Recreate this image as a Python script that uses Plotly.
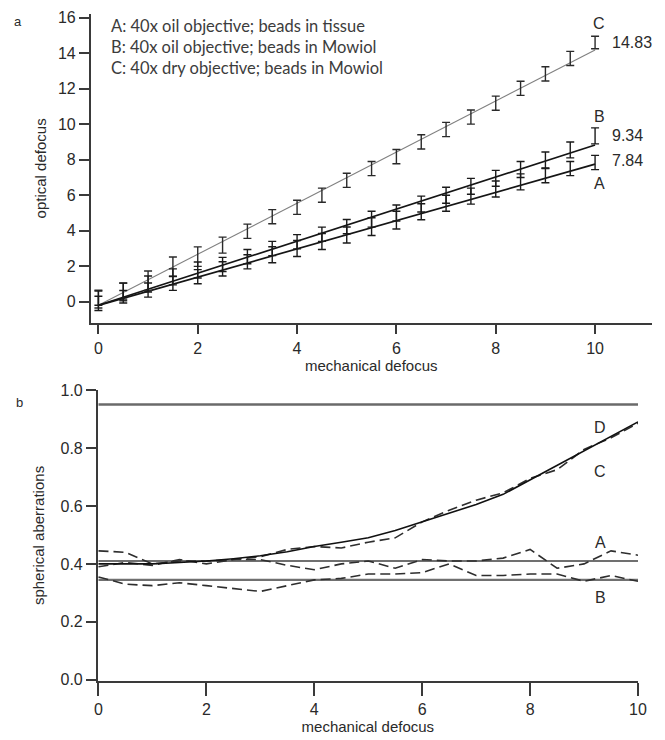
import plotly.graph_objects as go

# ---------------- data: panel a ----------------
mech = [0, 0.5, 1, 1.5, 2, 2.5, 3, 3.5, 4, 4.5, 5, 5.5, 6, 6.5, 7, 7.5, 8, 8.5, 9, 9.5, 10]
opt_A = [-0.09, 0.28, 0.66, 1.04, 1.41, 1.85, 2.25, 2.65, 3.0, 3.39, 3.76, 4.23, 4.6, 5.07,
         5.55, 5.95, 6.35, 6.75, 7.1, 7.5, 7.84]
opt_B = [0.2, 0.6, 1.0, 1.4, 1.79, 2.1, 2.54, 3.0, 3.38, 3.8, 4.23, 4.65, 5.0, 5.5,
         6.0, 6.5, 6.95, 7.45, 7.98, 8.55, 9.34]
opt_C = [0.15, 0.56, 1.18, 1.97, 2.54, 3.19, 3.97, 4.79, 5.32, 6.0, 6.84, 7.5, 8.17, 9.0,
         9.7, 10.4, 11.18, 12.02, 12.83, 13.7, 14.6]
err_A = [0.4, 0.35, 0.4, 0.4, 0.4, 0.4, 0.4, 0.45, 0.45, 0.45, 0.45, 0.5, 0.5, 0.45,
         0.45, 0.45, 0.45, 0.45, 0.4, 0.4, 0.4]
err_B = [0.4, 0.45, 0.45, 0.45, 0.45, 0.4, 0.4, 0.4, 0.4, 0.4, 0.4, 0.45, 0.45, 0.45,
         0.45, 0.45, 0.45, 0.45, 0.45, 0.45, 0.45]
err_C = [0.5, 0.5, 0.55, 0.55, 0.55, 0.45, 0.4, 0.4, 0.4, 0.4, 0.4, 0.4, 0.4, 0.4,
         0.4, 0.4, 0.4, 0.4, 0.4, 0.4, 0.35]
fit_x = [0, 10]
fit_A = [-0.2, 7.75]
fit_B = [-0.2, 8.83]
fit_C = [-0.2, 14.18]
legend_lines = ["A: 40x oil objective; beads in tissue",
                "B: 40x oil objective; beads in Mowiol",
                "C: 40x dry objective; beads in Mowiol"]
end_labels = ["14.83", "9.34", "7.84"]

# ---------------- data: panel b ----------------
sph_A = [0.445, 0.44, 0.40, 0.41, 0.41, 0.415, 0.415, 0.395, 0.38, 0.40, 0.41, 0.385, 0.415,
         0.41, 0.41, 0.42, 0.45, 0.385, 0.40, 0.445, 0.43]
sph_B = [0.355, 0.33, 0.325, 0.335, 0.325, 0.315, 0.305, 0.325, 0.345, 0.35, 0.365, 0.365,
         0.37, 0.40, 0.36, 0.36, 0.365, 0.365, 0.34, 0.36, 0.34]
sph_C = [0.39, 0.405, 0.395, 0.415, 0.40, 0.415, 0.425, 0.45, 0.46, 0.455, 0.475, 0.49,
         0.545, 0.585, 0.62, 0.645, 0.695, 0.725, 0.795, 0.835, 0.885]
sph_fit = [0.40, 0.40, 0.40, 0.405, 0.41, 0.418, 0.428, 0.442, 0.46, 0.475, 0.49, 0.515,
           0.545, 0.575, 0.605, 0.64, 0.69, 0.74, 0.79, 0.84, 0.89]
level_x = [0, 10]
level_D = 0.95
level_A = 0.41
level_B = 0.345

AX = "#3a3a3a"
TXT = "#2a2a2a"

fig = go.Figure()

def errtrace(y, e, col, xa, ya):
    return go.Scatter(x=mech, y=y, mode="markers",
                      marker=dict(size=1, color="rgba(0,0,0,0)"),
                      error_y=dict(type="data", array=e, visible=True, color=col,
                                   thickness=1.4, width=4),
                      xaxis=xa, yaxis=ya, showlegend=False, hoverinfo="skip")

# panel a fits
fig.add_trace(go.Scatter(x=fit_x, y=fit_C, mode="lines", line=dict(color="#808080", width=1.1),
                         xaxis="x", yaxis="y", showlegend=False))
fig.add_trace(go.Scatter(x=fit_x, y=fit_B, mode="lines", line=dict(color="#151515", width=1.7),
                         xaxis="x", yaxis="y", showlegend=False))
fig.add_trace(go.Scatter(x=fit_x, y=fit_A, mode="lines", line=dict(color="#151515", width=1.7),
                         xaxis="x", yaxis="y", showlegend=False))
fig.add_trace(errtrace(opt_C, err_C, "#2a2a2a", "x", "y"))
fig.add_trace(errtrace(opt_B, err_B, "#1a1a1a", "x", "y"))
fig.add_trace(errtrace(opt_A, err_A, "#1a1a1a", "x", "y"))

# panel b
fig.add_trace(go.Scatter(x=level_x, y=[level_D, level_D], mode="lines",
                         line=dict(color="#6a6a6a", width=2.6), xaxis="x2", yaxis="y2", showlegend=False))
fig.add_trace(go.Scatter(x=level_x, y=[level_A, level_A], mode="lines",
                         line=dict(color="#707070", width=2.2), xaxis="x2", yaxis="y2", showlegend=False))
fig.add_trace(go.Scatter(x=level_x, y=[level_B, level_B], mode="lines",
                         line=dict(color="#707070", width=2.2), xaxis="x2", yaxis="y2", showlegend=False))
for ys in (sph_A, sph_B, sph_C):
    fig.add_trace(go.Scatter(x=mech, y=ys, mode="lines",
                             line=dict(color="#2e2e2e", width=1.6, dash="10px,5px"),
                             xaxis="x2", yaxis="y2", showlegend=False))
fig.add_trace(go.Scatter(x=mech, y=sph_fit, mode="lines", line=dict(color="#111111", width=1.6),
                         xaxis="x2", yaxis="y2", showlegend=False))

tickfont = dict(family="Liberation Sans, Arial, sans-serif", size=16, color=TXT)
titlefont = dict(family="Liberation Sans, Arial, sans-serif", size=15, color=TXT)
common = dict(showline=True, linecolor=AX, linewidth=1.5, ticks="outside", ticklen=10,
              tickwidth=1.5, tickcolor=AX, showgrid=False, zeroline=False, tickfont=tickfont,
              automargin=False)

fig.update_layout(
    width=665, height=740, margin=dict(l=0, r=0, t=0, b=0, autoexpand=False),
    paper_bgcolor="white", plot_bgcolor="white",
    xaxis=dict(domain=[0.1364, 0.98], range=[-0.155, 11.14], tickvals=[0, 2, 4, 6, 8, 10],
               anchor="y", title=dict(text="mechanical defocus", font=titlefont, standoff=1), **common),
    yaxis=dict(domain=[0.5639, 0.981], range=[-1.18, 16.2], tickvals=[0, 2, 4, 6, 8, 10, 12, 14, 16],
               anchor="x", title=dict(text="optical defocus", font=titlefont, standoff=8), **common),
    xaxis2=dict(domain=[0.1469, 0.9594], range=[-0.015, 10.0], tickvals=[0, 2, 4, 6, 8, 10],
                anchor="y2", title=dict(text="mechanical defocus", font=titlefont, standoff=2), **common),
    yaxis2=dict(domain=[0.0797, 0.473], range=[-0.004, 1.0], tickvals=[0, 0.2, 0.4, 0.6, 0.8, 1.0],
                tickformat=".1f", anchor="x2",
                title=dict(text="spherical aberrations", font=titlefont, standoff=12), **common),
)
fig.update_xaxes(ticklen=13, selector=dict(anchor="y2"))

legfont = dict(family="Lato, Open Sans, sans-serif", size=16.5, color="#3c3c3c")
for i, t in enumerate(legend_lines):
    fig.add_annotation(x=0.22, y=15.55 - i * 1.18, xref="x", yref="y", text=t, showarrow=False,
                       xanchor="left", yanchor="middle", font=legfont)

lblfont = dict(family="Liberation Sans, Arial, sans-serif", size=16, color=TXT)
fig.add_annotation(x=10.08, y=15.65, xref="x", yref="y", text="C", showarrow=False, font=lblfont)
fig.add_annotation(x=10.08, y=10.45, xref="x", yref="y", text="B", showarrow=False, font=lblfont)
fig.add_annotation(x=10.08, y=6.65, xref="x", yref="y", text="A", showarrow=False, font=lblfont)
for lab, yy in zip(end_labels, [14.6, 9.36, 7.95]):
    fig.add_annotation(x=10.3, y=yy, xref="x", yref="y", text=lab, showarrow=False,
                       xanchor="left", font=lblfont)

fig.add_annotation(x=9.3, y=0.87, xref="x2", yref="y2", text="D", showarrow=False, font=lblfont)
fig.add_annotation(x=9.3, y=0.72, xref="x2", yref="y2", text="C", showarrow=False, font=lblfont)
fig.add_annotation(x=9.3, y=0.474, xref="x2", yref="y2", text="A", showarrow=False, font=lblfont)
fig.add_annotation(x=9.3, y=0.283, xref="x2", yref="y2", text="B", showarrow=False, font=lblfont)

panfont = dict(family="Liberation Sans, Arial, sans-serif", size=13, color=TXT)
fig.add_annotation(x=12 / 665, y=1 - 12 / 740, xref="paper", yref="paper", text="a",
                   showarrow=False, font=panfont)
fig.add_annotation(x=14 / 665, y=1 - 402 / 740, xref="paper", yref="paper", text="b",
                   showarrow=False, font=panfont)

fig.write_html("out.html", config={"displayModeBar": False},
               post_script="document.body.style.margin='0';document.body.style.padding='0';")
